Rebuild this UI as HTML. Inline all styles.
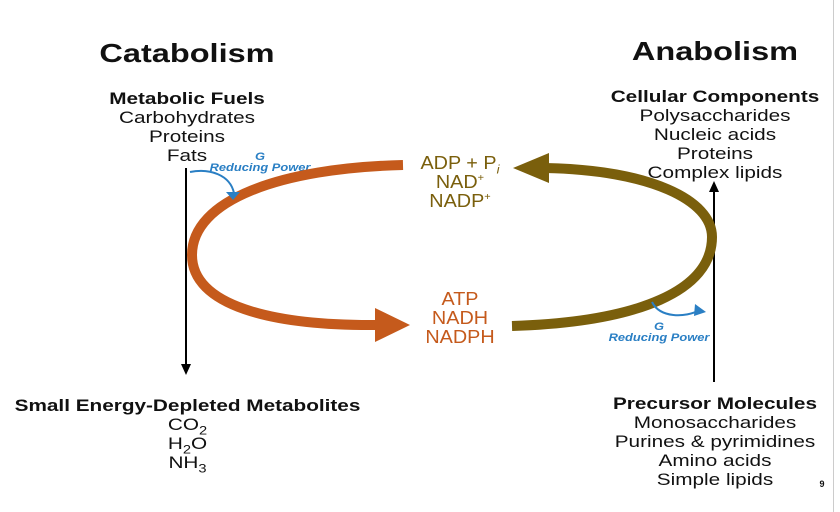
<!DOCTYPE html>
<html><head><style>
body{margin:0;width:840px;height:512px;background:#fff;position:relative;overflow:hidden;font-family:"Liberation Sans",Arial,sans-serif}
.t{position:absolute;text-align:center;white-space:nowrap;color:#111}
.h{font-weight:bold;font-size:26px;transform:scaleX(1.25)}
.l{font-size:17px;line-height:19px;transform:scaleX(1.22)}
.l b{font-size:17px}
.m{font-size:18px;line-height:19px;transform:scaleX(1.1)}
.r{color:#2a7fc4;font-size:11px;font-weight:bold;font-style:italic;line-height:11px;transform:scaleX(1.17)}
</style></head><body>
<div style="position:absolute;left:833px;top:0;width:1px;height:512px;background:#ccc"></div>
<div class="t h" style="left:87px;width:200px;top:38px">Catabolism</div>
<div class="t h" style="left:615px;width:200px;top:36px">Anabolism</div>
<div class="t l" style="left:87px;width:200px;top:89px"><b>Metabolic Fuels</b><br>Carbohydrates<br>Proteins<br>Fats</div>
<div class="t l" style="left:595px;width:240px;top:87px"><b>Cellular Components</b><br>Polysaccharides<br>Nucleic acids<br>Proteins<br>Complex lipids</div>
<div class="t l" style="left:0px;width:375px;top:396px"><b>Small Energy-Depleted Metabolites</b><br>CO<sub style="font-size:12px;line-height:0">2</sub><br>H<sub style="font-size:12px;line-height:0">2</sub>O<br>NH<sub style="font-size:12px;line-height:0">3</sub></div>
<div class="t l" style="left:595px;width:240px;top:394px"><b>Precursor Molecules</b><br>Monosaccharides<br>Purines &amp; pyrimidines<br>Amino acids<br>Simple lipids</div>
<div class="t m" style="left:395px;width:130px;top:154px;color:#7a5f0c">ADP + P<sub style="font-size:12px;line-height:0"><i>i</i></sub><br>NAD<sup style="font-size:10px;line-height:0">+</sup><br>NADP<sup style="font-size:10px;line-height:0">+</sup></div>
<div class="t m" style="left:395px;width:130px;top:290px;color:#c55a1c">ATP<br>NADH<br>NADPH</div>
<div class="t r" style="left:200px;width:120px;top:152px">G<br>Reducing Power</div>
<div class="t r" style="left:599px;width:120px;top:322px">G<br>Reducing Power</div>
<div class="t" style="left:812px;width:20px;top:479px;font-size:9px;font-weight:bold">9</div>
<svg width="840" height="512" style="position:absolute;left:0;top:0">
<line x1="186" y1="168" x2="186" y2="366" stroke="#000" stroke-width="2"/>
<polygon points="181,364 191,364 186,375" fill="#000"/>
<line x1="714" y1="382" x2="714" y2="190" stroke="#000" stroke-width="2"/>
<polygon points="709,192 719,192 714,181" fill="#000"/>
<path d="M403,165 C280,168 192,200 192,255 C192,305 270,326 378,325" fill="none" stroke="#c55a1c" stroke-width="10"/>
<polygon points="375,308 410,325 375,342" fill="#c55a1c"/>
<path d="M512,326 C640,322 712,290 712,237 C712,200 650,170 545,168" fill="none" stroke="#7a5f0c" stroke-width="10"/>
<polygon points="549,153 513,168 549,183" fill="#7a5f0c"/>
<path d="M190,172 C210,168 230,175 234,193" fill="none" stroke="#2a7fc4" stroke-width="2"/>
<polygon points="226,192 240,192 233,200" fill="#2a7fc4"/>
<path d="M652,302 C660,318 685,318 700,310" fill="none" stroke="#2a7fc4" stroke-width="2"/>
<polygon points="695,304 706,312 694,316" fill="#2a7fc4"/>
</svg>
</body></html>
